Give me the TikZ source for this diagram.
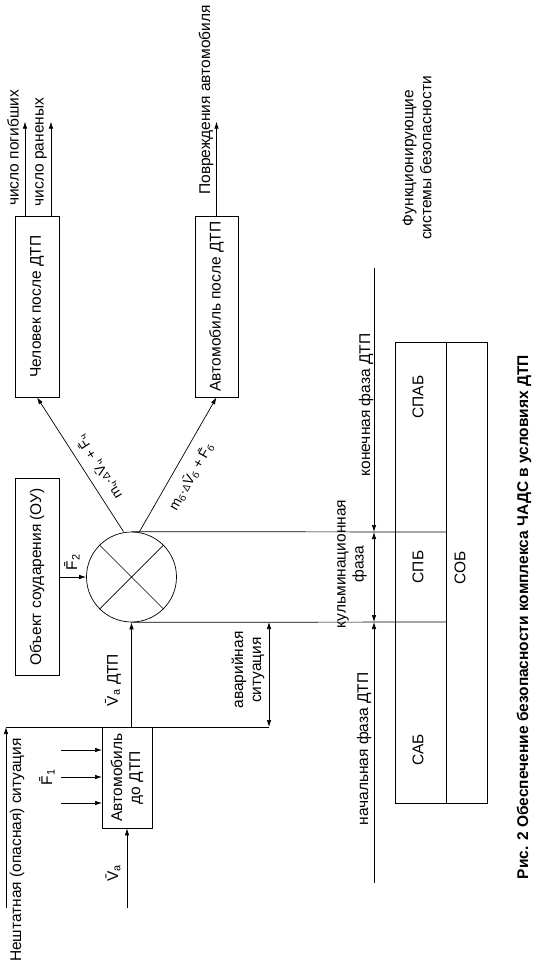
\documentclass[tikz,border=0pt]{standalone}
\usepackage{fontspec}
\setmainfont{Liberation Sans}
\usetikzlibrary{arrows.meta,calc}

\tikzset{
  blok/.style={draw,rotate=90,align=center,inner sep=2pt},
  nadp/.style={rotate=90,align=center,inner sep=1pt},
}
\newcommand{\malD}{{\fontsize{10}{10}\selectfont Δ}}

\begin{document}
\begin{tikzpicture}[x=1pt,y=-1pt,>={Latex[length=7pt,width=4.5pt]},line width=0.7pt,
  font=\fontsize{15.5}{18}\selectfont]
  \useasboundingbox (0,0) rectangle (537,971);
  % bloki
  \node[blok,minimum width=181pt,minimum height=44pt] (chel) at (37,306.5) {Человек после ДТП};
  \node[blok,minimum width=181pt,minimum height=43pt] (avtp) at (216.5,306.5) {Автомобиль после ДТП};
  \node[blok,minimum width=197pt,minimum height=44pt] (ou) at (37,577) {Объект соударения (ОУ)};
  \node[blok,minimum width=101pt,minimum height=50pt] (avdo) at (127,777.5) {Автомобиль\\до ДТП};
  \node[draw,circle,minimum size=90pt,inner sep=0pt] (krug) at (131.5,577) {};
  \draw (krug.45) -- (krug.225) (krug.135) -- (krug.315);
  % vkhod
  \coordinate (nsit) at (6,727);
  \coordinate (avs) at (269,727);
  \draw (nsit) -- (avs);
  \draw[->] (6,908) -- (nsit);
  \node[nadp] (lnsit) at (17,850) {Нештатная (опасная) ситуация};
  \foreach \y in {750,777,803}
    \draw[->] (61,\y) -- (102,\y);
  \node[nadp] (lf1) at (47,777) {\={F}\textsubscript{1}};
  \draw[->] ([yshift=-80pt]avdo.west) -- (avdo.west);
  \node[nadp] (lva) at (113,873) {\={V}\textsubscript{а}};
  \draw[->] (krug.south |- avdo.east) -- (krug.south);
  \node[nadp] (lvadtp) at (113,680) {\={V}\textsubscript{а} ДТП};
  \draw[<->] (avs) -- (269,622);
  \node[nadp] (lavar) at (248,670) {аварийная\\ситуация};
  \draw[->] (ou.south) -- (krug.west);
  \node[nadp] (lf2) at (72,562) {\={F}\textsubscript{2}};
  % vykhod
  \draw[->] ([xshift=-8pt]krug.north) -- (chel.west);
  \draw[->] ([xshift=8pt]krug.north) -- (avtp.west);
  \node[rotate=122.5,inner sep=1pt,font=\fontsize{14}{16}\selectfont] (lmch) at (99,467)
    {m\textsubscript{ч}·\malD\={V}\textsubscript{ч} + \={F}\textsubscript{ч}};
  \node[rotate=60.6,inner sep=1pt,font=\fontsize{14}{16}\selectfont] (lmb) at (191,477)
    {m\textsubscript{б}·\malD\={V}\textsubscript{б} + \={F}\textsubscript{б}};
  \draw[->] ([xshift=-12pt]chel.east) -- ++(0,-94);
  \draw[->] ([xshift=14pt]chel.east) -- ++(0,-94);
  \draw[->] (avtp.east) -- ++(0,-94);
  \node[nadp] (lpog) at (13,148) {число погибших};
  \node[nadp] (lran) at (41,152) {число раненых};
  \node[nadp] (lpovr) at (206,100) {Повреждения автомобиля};
  % fazy
  \draw (krug.north) -- (446,532);
  \draw (krug.south) -- (446,622);
  \draw[->] (374,268) -- (374,532);
  \draw[<->] (374,532) -- (374,622);
  \draw[<-] (374,622) -- (374,883);
  \node[nadp] (lkon) at (366,405) {конечная фаза ДТП};
  \node[nadp] (lkul) at (352,564) {кульминационная\\фаза};
  \node[nadp] (lnach) at (364,749) {начальная фаза ДТП};
  % sistemy
  \draw (395,342) rectangle (487,803);
  \draw (446,342) -- (446,803);
  \node[nadp] (spab) at (418,397) {СПАБ};
  \node[nadp] (spb) at (418,567) {СПБ};
  \node[nadp] (sab) at (418,750) {САБ};
  \node[nadp] (sob) at (460,568) {СОБ};
  \node[nadp] (lsist) at (417,158) {Функционирующие\\системы безопасности};
  \node[nadp,font=\fontsize{15.5}{18}\selectfont\bfseries] (podp) at (524,617)
    {Рис. 2 Обеспечение безопасности комплекса ЧАДС в условиях ДТП};
\end{tikzpicture}
\end{document}
